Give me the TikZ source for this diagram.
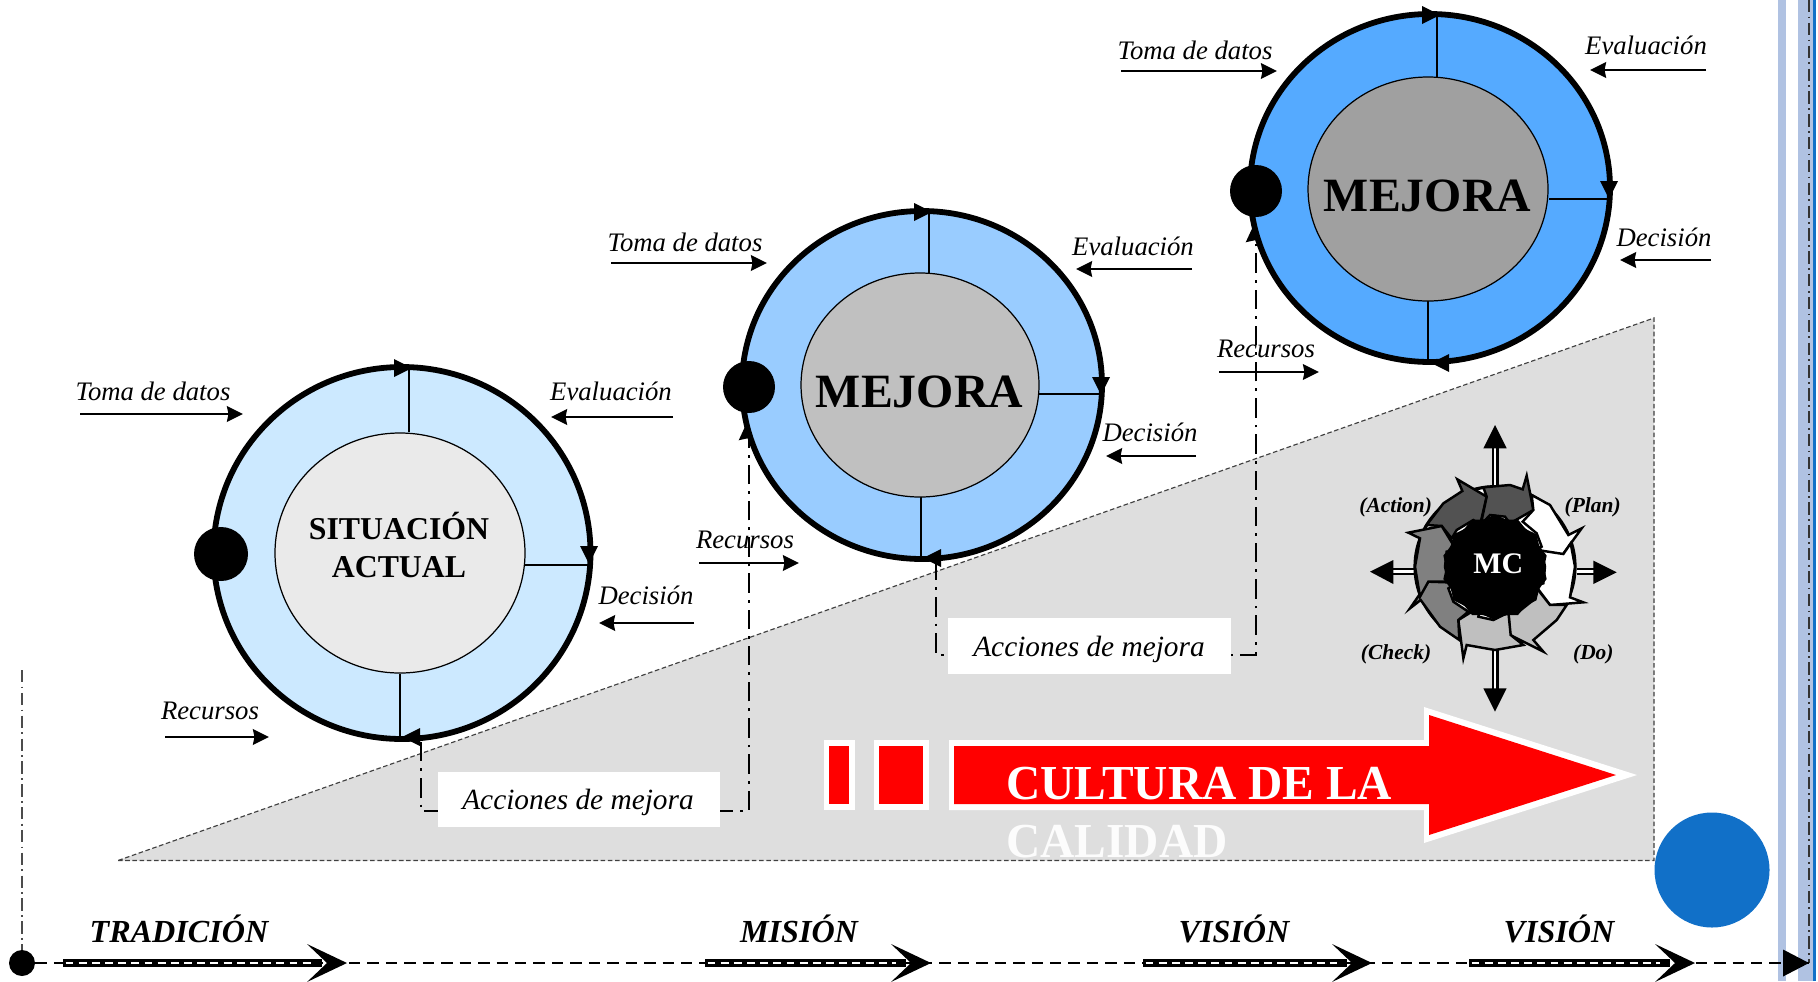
\documentclass[tikz,border=0pt]{standalone}
\usepackage{fontspec}
\setmainfont{Liberation Serif}
\usetikzlibrary{arrows.meta,shapes.geometric}
\definecolor{ringA}{HTML}{CCE9FF}
\definecolor{ringB}{HTML}{99CCFF}
\definecolor{ringC}{HTML}{55AAFF}
\definecolor{coreA}{HTML}{EAEAEA}
\definecolor{coreB}{HTML}{C0C0C0}
\definecolor{coreC}{HTML}{A0A0A0}
\definecolor{slope}{HTML}{DEDEDE}
\definecolor{barblue}{HTML}{B0C2E2}
\definecolor{strongblue}{HTML}{1170C8}
\newcommand\fsz[1]{\fontsize{#1}{#1}\selectfont}
\tikzset{
  x=0.02cm,y=-0.02cm,
  lbl/.style={inner sep=0pt,font=\fsz{15.2}\itshape},
  feed/.style={line width=1.5pt,-{Stealth[length=3.2mm,width=3.1mm,inset=0.3mm]}},
  ring/.style={line width=3.3pt,draw=black},
  core/.style={line width=0.7pt,draw=black},
  spoke/.style={line width=0.6pt},
  chain/.style={line width=1.5pt,dash pattern=on 11pt off 4pt on 1.6pt off 4pt},
  chainhead/.style={chain,-{Stealth[length=4.4mm,width=4mm,inset=0.4mm]}},
  era/.style={inner sep=0pt,yshift=0.04cm,font=\fsz{18.3}\bfseries\itshape},
  pdca/.style={inner sep=0pt,font=\fsz{12.2}\bfseries\itshape},
  seg/.style={draw=black,line width=1.4pt,line join=miter},
}
% label with its feed arrow
\newcommand\lab[5]{%
  \node[lbl] (#1) at (#2) {#3};
  \coordinate (#1s) at (#4); \coordinate (#1e) at (#5);
  \draw[feed] (#1s) -- (#1e);}
% small triangular tip on a ring
\newcommand\tip[3]{\fill[shift={(#1,#2)},rotate=#3] (10,0) -- (-8,-9) -- (-8,9) -- cycle;}
% double band with swallow head
\newcommand\band[3]{%
  \coordinate (#1s) at (#2,963); \coordinate (#1e) at (#3,963);
  \draw[line width=4.6pt] (#1s) -- ([xshift=-0.5cm]#1e);
  \draw[white,line width=1.2pt,dash pattern=on 4.5pt off 3pt] ([xshift=0.05cm]#1s) -- ([xshift=-0.7cm]#1e);
  \fill (#1e) -- ++(-40,-19) -- ++(20,19) -- ++(-20,19) -- cycle;}
% compass arrow of the MC wheel
\newcommand\compass[5]{%
  \coordinate (#1s) at (#2); \coordinate (#1e) at (#3);
  \draw[line width=4pt] (#1s) -- (#1e);
  \draw[white,line width=1.4pt] (#1s) -- (#1e);
  \fill (#4) -- #5 -- cycle;}
\begin{document}
\begin{tikzpicture}
\useasboundingbox (0,0) rectangle (1818,981);
\fill[white] (0,0) rectangle (1818,981);
% side bars
\fill[barblue] (1778,0) rectangle (1786,981);
\fill[barblue] (1798,0) rectangle (1813,981);
\fill[strongblue] (1813,0) rectangle (1815.5,981);
% slope
\filldraw[fill=slope,draw=black!75,line width=0.65pt,dash pattern=on 2.6pt off 1.5pt] (118,860.5) -- (1654,860.5) -- (1654,318) -- cycle;
% chains
\coordinate (c1a) at (421,742); \coordinate (c1b) at (421,811); \coordinate (c1c) at (749,811); \coordinate (c1d) at (749,418);
\draw[chainhead] (c1a) -- (c1b) -- (c1c) -- (c1d);
\coordinate (c2a) at (936,561); \coordinate (c2b) at (936,655); \coordinate (c2c) at (1256,655); \coordinate (c2d) at (1256,220);
\draw[chainhead] (c2a) -- (c2b) -- (c2c) -- (c2d);
\node[fill=white,minimum width=282*0.02cm,minimum height=55*0.02cm,inner sep=0pt] (acc1) at (579,799) {};
\node[inner sep=0pt,font=\fsz{16.7}\itshape] (acctxt1) at (578,802) {Acciones de mejora};
\node[fill=white,minimum width=283*0.02cm,minimum height=56*0.02cm,inner sep=0pt] (acc2) at (1089,646) {};
\node[inner sep=0pt,font=\fsz{16.7}\itshape] (acctxt2) at (1089,649) {Acciones de mejora};
% circle 1
\filldraw[ring,fill=ringA] (402,553) ellipse (188.5 and 186);
\draw[spoke] (409,369) -- (409,432); \draw[spoke] (525,565) -- (590,565); \draw[spoke] (400,674) -- (400,739);
\filldraw[core,fill=coreA] (400,553) ellipse (125 and 120);
\tip{402}{368}{0}\tip{589}{554}{-90}\tip{412}{737}{180}
\fill (221,554) circle (27);
\node[inner sep=0pt,align=center,font=\fsz{18.1}\bfseries] (sit) at (399,545) {SITUACIÓN\\[3.8pt]ACTUAL};
% circle 2
\filldraw[ring,fill=ringB] (922,385) ellipse (180 and 174);
\draw[spoke] (929,212) -- (929,274); \draw[spoke] (1039,394) -- (1101,394); \draw[spoke] (921,496) -- (921,558);
\filldraw[core,fill=coreB] (920,385) ellipse (119 and 112);
\tip{922}{212}{0}\tip{1101}{385}{-90}\tip{933}{558}{180}
\fill (749,387) circle (26);
\node[inner sep=0pt,font=\fsz{27.2}\bfseries] (mej1) at (919.5,392) {MEJORA};
% circle 3
\filldraw[ring,fill=ringC] (1430,188) ellipse (180 and 174);
\draw[spoke] (1437,16) -- (1437,77); \draw[spoke] (1549,199) -- (1610,199); \draw[spoke] (1428,301) -- (1428,363);
\filldraw[core,fill=coreC] (1428,189) ellipse (120 and 112);
\tip{1430}{15}{0}\tip{1609}{189}{-90}\tip{1441}{363}{180}
\fill (1256,191) circle (26);
\node[inner sep=0pt,font=\fsz{27.2}\bfseries] (mej2) at (1427.5,196) {MEJORA};
% labels
\lab{ta}{153,391}{Toma de datos}{80,414}{243,414}
\lab{ea}{611,391}{Evaluación}{673,417}{551,417}
\lab{da}{646,595}{Decisión}{694,623}{599,623}
\lab{ra}{210,711}{Recursos}{165,737}{269,737}
\lab{tb}{685,242}{Toma de datos}{611,263}{767,263}
\lab{eb}{1133,246}{Evaluación}{1192,269}{1076,269}
\lab{db}{1150,432}{Decisión}{1196,456}{1106,456}
\lab{rb}{745,540}{Recursos}{699,563}{799,563}
\lab{tc}{1195,50}{Toma de datos}{1121,71}{1277,71}
\lab{ec}{1646,45}{Evaluación}{1706,70}{1590,70}
\lab{dc}{1664,237}{Decisión}{1711,260}{1620,260}
\lab{rc}{1266,349}{Recursos}{1219,372}{1319,372}
% red arrow
\fill[white] (824,740) rectangle (855,810);
\fill[red] (829,746) rectangle (849,804);
\fill[white] (874,740) rectangle (929,810);
\fill[red] (879,746) rectangle (923,804);
\fill[white] (949,740) -- (1424,740) -- (1424,707) -- (1637,775) -- (1424,843) -- (1424,810) -- (949,810) -- cycle;
\fill[red] (954,746) -- (1429,746) -- (1429,715) -- (1616,775) -- (1429,835) -- (1429,804) -- (954,804) -- cycle;
\node[anchor=base west,inner sep=0pt,text=white,font=\fsz{27}\bfseries] (cul) at (1006,799) {\scalebox{1}[1.03]{CULTURA DE LA}};
\node[anchor=base west,inner sep=0pt,text=white!92!slope,font=\fsz{27}\bfseries] (cal) at (1006,857) {\scalebox{1}[1.03]{CALIDAD}};
% MC wheel
\begin{scope}[shift={(1330,410)},scale=1/3]
\compass{nn}{495,225}{495,110}{495,45}{(530,115) -- (460,115)}
\compass{ss}{495,720}{495,840}{495,905}{(530,835) -- (460,835)}
\compass{ww}{255,485}{185,485}{120,485}{(190,450) -- (190,522)}
\compass{ee}{740,485}{795,485}{860,487}{(790,452) -- (790,522)}
\filldraw[draw=black,line width=1.8pt,fill=white] (495,470) circle (240);
\filldraw[seg,fill=black!68] (290,345) -- (340,280) -- (397,243) -- (382,208) -- (470,260) -- (450,345) -- (430,330) -- (380,360) -- (365,385) -- (335,348) -- cycle;
\filldraw[seg,fill=black!68] (460,232) -- (540,225) -- (578,238) -- (590,197) -- (610,300) -- (540,340) -- (525,320) -- (480,315) -- (452,345) -- (470,260) -- cycle;
\filldraw[seg,fill=white] (605,255) -- (660,285) -- (715,375) -- (755,355) -- (695,438) -- (612,425) -- (635,410) -- (620,370) -- (578,335) -- (610,300) -- cycle;
\filldraw[seg,fill=white] (700,432) -- (722,400) -- (735,470) -- (720,562) -- (760,577) -- (660,585) -- (615,525) -- (640,520) -- (645,470) -- (635,422) -- cycle;
\filldraw[seg,fill=black!25] (710,585) -- (680,630) -- (610,690) -- (640,725) -- (540,675) -- (535,605) -- (560,610) -- (610,570) -- (615,528) -- (660,585) -- cycle;
\filldraw[seg,fill=black!25] (542,675) -- (580,705) -- (495,720) -- (410,705) -- (400,745) -- (385,630) -- (450,590) -- (445,620) -- (490,630) -- (535,605) -- cycle;
\filldraw[seg,fill=black!50] (388,690) -- (330,650) -- (272,570) -- (240,595) -- (295,515) -- (380,518) -- (355,535) -- (370,575) -- (415,605) -- (385,630) -- cycle;
\filldraw[seg,fill=black!50] (270,560) -- (255,470) -- (270,385) -- (235,368) -- (335,348) -- (382,425) -- (350,425) -- (345,470) -- (355,515) -- (295,515) -- cycle;
\fill (495,472) circle (148);
\node[star,star points=14,star point ratio=1.08,fill=black,minimum size=2.12cm,inner sep=0pt] (hub) at (495,472) {};
\node[text=white,inner sep=0pt,font=\fsz{17}\bfseries] (mc) at (505,460) {MC};
\node[pdca] (act) at (197,292) {(Action)};
\node[pdca] (pla) at (788,292) {(Plan)};
\node[pdca] (che) at (198,732) {(Check)};
\node[pdca] (doo) at (790,732) {(Do)};
\end{scope}
% blue disc
\fill[strongblue] (1712,870) circle (57.5);
% right dash-dot rule and time axis
\coordinate (railtop) at (1809,0); \coordinate (railend) at (1809,963);
\draw[line width=0.7pt,black!80,dash pattern=on 7pt off 2.5pt on 1pt off 2.5pt] (railtop) -- (railend);
\coordinate (axisup) at (22,670);
\node[circle,fill=black,minimum size=26*0.02cm,inner sep=0pt] (origin) at (22,963) {};
\draw[line width=0.6pt,black!70,dash pattern=on 7pt off 2.5pt on 1pt off 2.5pt] (axisup) -- (origin);
\draw[line width=1.6pt,dash pattern=on 6.5pt off 4pt] (origin) -- (railend);
\fill (railend) -- ++(-26,-13.5) -- ++(0,27) -- cycle;
\band{bandA}{63}{347}
\band{bandB}{705}{931}
\band{bandC}{1143}{1372}
\band{bandD}{1469}{1695}
\node[era] (tra) at (179,931) {TRADICIÓN};
\node[era] (mis) at (799,931) {MISIÓN};
\node[era] (vis) at (1234,931) {VISIÓN};
\node[era] (vit) at (1559,931) {VISIÓN};
\end{tikzpicture}
\end{document}
